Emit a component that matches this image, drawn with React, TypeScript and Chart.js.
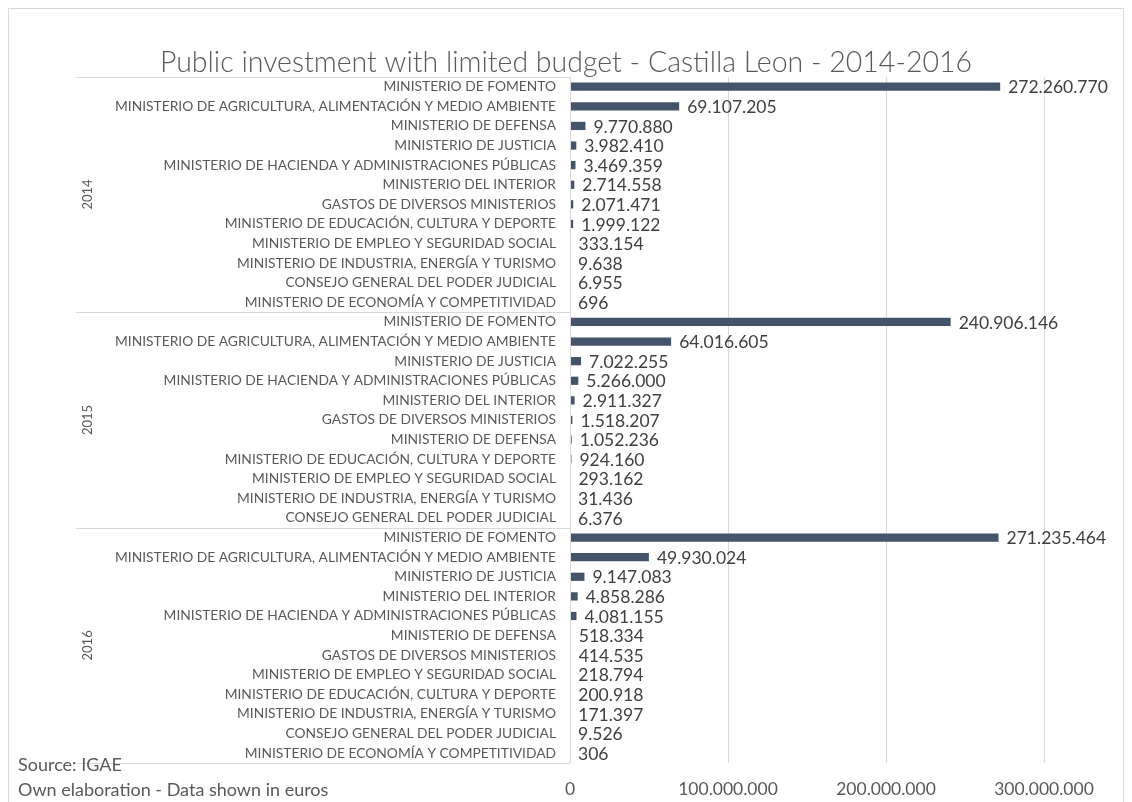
import React, { useEffect, useRef } from "react";
import { Chart, registerables } from "chart.js";

Chart.register(...registerables);

const years = ["2014", "2015", "2016"];

const labels2014 = [
  "MINISTERIO DE FOMENTO",
  "MINISTERIO DE AGRICULTURA, ALIMENTACIÓN Y MEDIO AMBIENTE",
  "MINISTERIO DE DEFENSA",
  "MINISTERIO DE JUSTICIA",
  "MINISTERIO DE HACIENDA Y ADMINISTRACIONES PÚBLICAS",
  "MINISTERIO DEL INTERIOR",
  "GASTOS DE DIVERSOS MINISTERIOS",
  "MINISTERIO DE EDUCACIÓN, CULTURA Y DEPORTE",
  "MINISTERIO DE EMPLEO Y SEGURIDAD SOCIAL",
  "MINISTERIO DE INDUSTRIA, ENERGÍA Y TURISMO",
  "CONSEJO GENERAL DEL PODER JUDICIAL",
  "MINISTERIO DE ECONOMÍA Y COMPETITIVIDAD",
];
const values2014 = [
  272260770, 69107205, 9770880, 3982410, 3469359, 2714558, 2071471, 1999122,
  333154, 9638, 6955, 696,
];

const labels2015 = [
  "MINISTERIO DE FOMENTO",
  "MINISTERIO DE AGRICULTURA, ALIMENTACIÓN Y MEDIO AMBIENTE",
  "MINISTERIO DE JUSTICIA",
  "MINISTERIO DE HACIENDA Y ADMINISTRACIONES PÚBLICAS",
  "MINISTERIO DEL INTERIOR",
  "GASTOS DE DIVERSOS MINISTERIOS",
  "MINISTERIO DE DEFENSA",
  "MINISTERIO DE EDUCACIÓN, CULTURA Y DEPORTE",
  "MINISTERIO DE EMPLEO Y SEGURIDAD SOCIAL",
  "MINISTERIO DE INDUSTRIA, ENERGÍA Y TURISMO",
  "CONSEJO GENERAL DEL PODER JUDICIAL",
];
const values2015 = [
  240906146, 64016605, 7022255, 5266000, 2911327, 1518207, 1052236, 924160,
  293162, 31436, 6376,
];

const labels2016 = [
  "MINISTERIO DE FOMENTO",
  "MINISTERIO DE AGRICULTURA, ALIMENTACIÓN Y MEDIO AMBIENTE",
  "MINISTERIO DE JUSTICIA",
  "MINISTERIO DEL INTERIOR",
  "MINISTERIO DE HACIENDA Y ADMINISTRACIONES PÚBLICAS",
  "MINISTERIO DE DEFENSA",
  "GASTOS DE DIVERSOS MINISTERIOS",
  "MINISTERIO DE EMPLEO Y SEGURIDAD SOCIAL",
  "MINISTERIO DE EDUCACIÓN, CULTURA Y DEPORTE",
  "MINISTERIO DE INDUSTRIA, ENERGÍA Y TURISMO",
  "CONSEJO GENERAL DEL PODER JUDICIAL",
  "MINISTERIO DE ECONOMÍA Y COMPETITIVIDAD",
];
const values2016 = [
  271235464, 49930024, 9147083, 4858286, 4081155, 518334, 414535, 218794,
  200918, 171397, 9526, 306,
];

const xTickValues = [0, 100000000, 200000000, 300000000];

const titleText = "Public investment with limited budget - Castilla Leon - 2014-2016";
const footerLines = ["Source: IGAE", "Own elaboration - Data shown in euros"];

const FONT = "Lato, 'Open Sans', sans-serif";
const TEXT = "#595959";
const LINE = "#d9d9d9";
const BAR = "#44546A";

const fmt = (n: number) => String(n).replace(/\B(?=(\d{3})+(?!\d))/g, ".");

export default function App() {
  const ref = useRef<HTMLCanvasElement | null>(null);

  useEffect(() => {
    if (!ref.current) return;
    const groupLabels = [labels2014, labels2015, labels2016];
    const groupValues = [values2014, values2015, values2016];
    const allLabels = groupLabels.flat();
    const allValues = groupValues.flat();
    const groupSizes = groupLabels.map((g) => g.length);

    const overlay = {
      id: "overlay",
      afterDraw(chart: any) {
        const { ctx, chartArea, scales } = chart;
        const y = scales.y;
        const half = Math.abs(y.getPixelForValue(1) - y.getPixelForValue(0)) / 2;
        ctx.save();
        // axis box lines
        ctx.strokeStyle = LINE;
        ctx.lineWidth = 1;
        const leftX = 67;
        const bounds: number[] = [y.getPixelForValue(0) - half];
        let idx = 0;
        groupSizes.forEach((n) => {
          idx += n;
          bounds.push(y.getPixelForValue(idx - 1) + half);
        });
        ctx.beginPath();
        bounds.forEach((b) => {
          const yy = Math.round(b) + 0.5;
          ctx.moveTo(leftX, yy);
          ctx.lineTo(chartArea.left, yy);
        });
        const ax = Math.round(chartArea.left) + 0.5;
        ctx.moveTo(ax, bounds[0]);
        ctx.lineTo(ax, bounds[bounds.length - 1]);
        ctx.stroke();

        // year labels
        ctx.fillStyle = TEXT;
        ctx.font = `13px ${FONT}`;
        ctx.textAlign = "center";
        ctx.textBaseline = "middle";
        for (let i = 0; i < years.length; i++) {
          const cy = (bounds[i] + bounds[i + 1]) / 2;
          ctx.save();
          ctx.translate(79, cy);
          ctx.rotate(-Math.PI / 2);
          ctx.fillText(years[i], 0, 0);
          ctx.restore();
        }

        // data labels
        const meta = chart.getDatasetMeta(0);
        ctx.fillStyle = "#404040";
        ctx.font = `17.5px ${FONT}`;
        ctx.textAlign = "left";
        ctx.textBaseline = "middle";
        meta.data.forEach((bar: any, i: number) => {
          ctx.fillText(fmt(allValues[i]), bar.x + 8, bar.y + 1);
        });

        // footer
        ctx.fillStyle = TEXT;
        ctx.font = `18px ${FONT}`;
        ctx.fillText(footerLines[0], 9, 756);
        ctx.fillText(footerLines[1], 9, 781);
        ctx.restore();
      },
    };

    const chart = new Chart(ref.current, {
      type: "bar",
      data: {
        labels: allLabels,
        datasets: [
          {
            data: allValues,
            backgroundColor: BAR,
            barPercentage: 0.42,
            categoryPercentage: 1,
          },
        ],
      },
      options: {
        indexAxis: "y",
        animation: false,
        responsive: false,
        layout: { padding: { left: 79, right: 79, top: 0, bottom: 0 } },
        plugins: {
          legend: { display: false },
          tooltip: { enabled: false },
          title: {
            display: true,
            text: titleText,
            color: TEXT,
            font: { family: FONT, size: 28.5, weight: "300" as any, lineHeight: 0.98 },
            padding: { top: 40, bottom: 0 },
          },
        },
        scales: {
          x: {
            min: 0,
            max: 300000000,
            afterBuildTicks: (scale: any) => {
              scale.ticks = xTickValues.map((v) => ({ value: v }));
            },
            afterFit: (scale: any) => {
              scale.height = 44;
            },
            ticks: {
              color: TEXT,
              font: { family: FONT, size: 17.5 },
              padding: 16,
              callback: (v: any) => fmt(Number(v)),
            },
            grid: { color: LINE, drawTicks: false },
            border: { display: false },
          },
          y: {
            afterFit: (scale: any) => {
              scale.width = 561 - 79;
            },
            ticks: {
              color: TEXT,
              font: { family: FONT, size: 13.8 },
              padding: 14,
              autoSkip: false,
            },
            grid: { display: false, drawTicks: false },
            border: { display: false },
          },
        },
      },
      plugins: [overlay],
    });
    return () => chart.destroy();
  }, []);

  return (
    <div
      style={{
        width: 1116,
        height: 800,
        border: `1px solid ${LINE}`,
        boxSizing: "border-box",
        position: "relative",
        background: "#fff",
      }}
    >
      <canvas ref={ref} width={1114} height={798} style={{ display: "block" }} />
    </div>
  );
}
